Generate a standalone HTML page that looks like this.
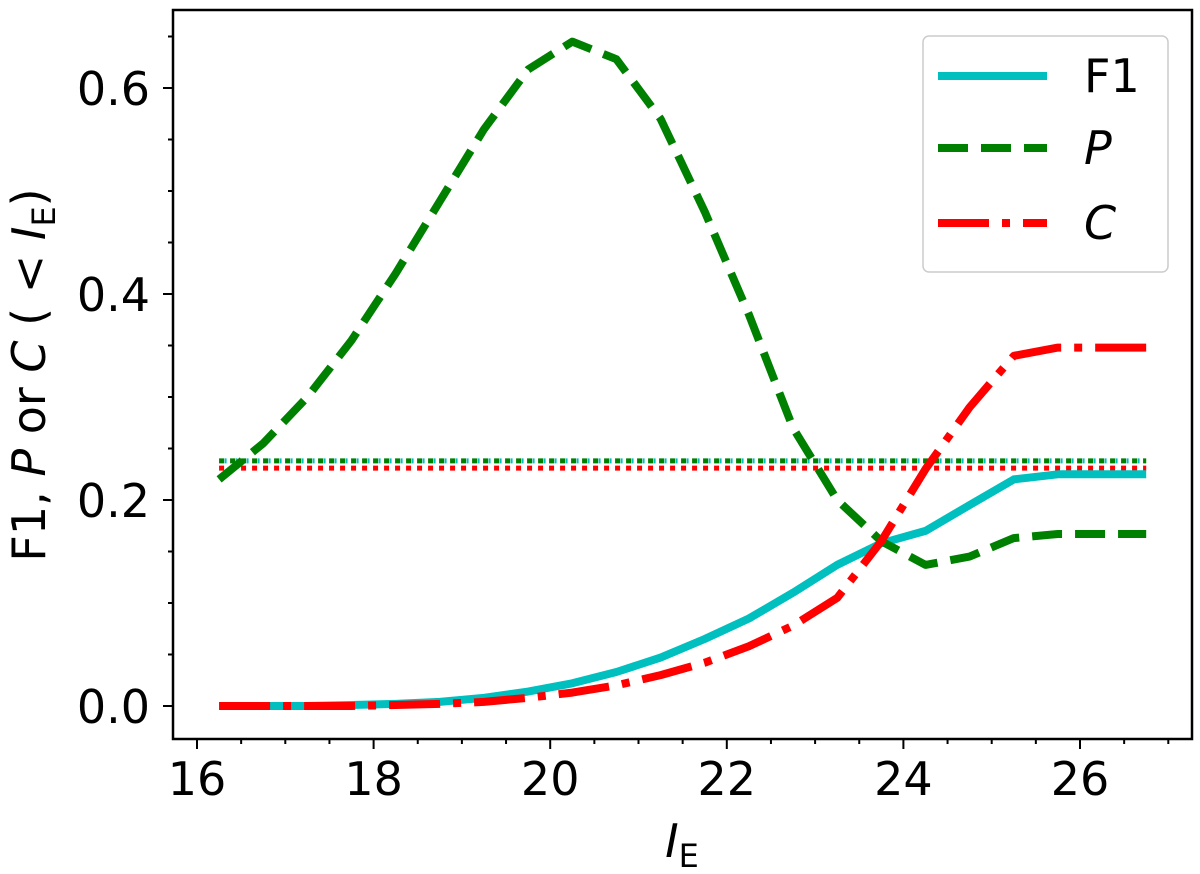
<!DOCTYPE html>
<html><head><meta charset="utf-8">
<style>
html,body{margin:0;padding:0;background:#fff;}
svg{display:block;font-family:"DejaVu Sans","Liberation Sans",sans-serif;}
</style></head>
<body>
<svg id="chart" width="1200" height="874" viewBox="0 0 1200 874" xmlns="http://www.w3.org/2000/svg">
<defs><clipPath id="plotclip"><rect x="173" y="10" width="1019" height="729"/></clipPath></defs>
<g id="ticks"></g>
<g id="series" clip-path="url(#plotclip)"></g>
<rect x="173" y="10" width="1019" height="729" fill="none" stroke="#000" stroke-width="2.5"/>
<text x="682" y="857" font-size="46" text-anchor="middle"><tspan font-style="italic">I</tspan><tspan font-size="32" dy="10">E</tspan></text>
<text transform="translate(45,375) rotate(-90)" font-size="46" text-anchor="middle">F1, <tspan font-style="italic">P</tspan> or <tspan font-style="italic">C</tspan> ( &lt; <tspan font-style="italic">I</tspan><tspan font-size="32" dy="10">E</tspan><tspan dy="-10">)</tspan></text>
<g>
<rect x="923" y="36" width="245" height="236" rx="6" fill="#fff" fill-opacity="0.8" stroke="#ccc" stroke-width="1.5"/>
<line x1="938" y1="76" x2="1047" y2="76" stroke="#00bfbf" stroke-width="8"/>
<text x="1084" y="92" font-size="46">F1</text>
<line x1="938" y1="148" x2="1047" y2="148" stroke="#008000" stroke-width="8" stroke-dasharray="30,13"/>
<text x="1084" y="164" font-size="46" font-style="italic">P</text>
<line x1="938" y1="223" x2="1047" y2="223" stroke="#ff0000" stroke-width="8" stroke-dasharray="51,13,8,13"/>
<text x="1084" y="239" font-size="46" font-style="italic">C</text>
</g>
</svg>
<script>
const xValues = [16.25,16.75,17.25,17.75,18.25,18.75,19.25,19.75,20.25,20.75,21.25,21.75,22.25,22.75,23.25,23.75,24.25,24.75,25.25,25.75,26.25,26.75];
const pValues = [0.22,0.255,0.30,0.355,0.42,0.49,0.56,0.618,0.645,0.628,0.57,0.48,0.38,0.27,0.20,0.16,0.137,0.145,0.163,0.167,0.167,0.167];
const f1Values = [0,0,0,0.001,0.002,0.004,0.008,0.014,0.022,0.033,0.047,0.065,0.085,0.11,0.137,0.158,0.17,0.195,0.22,0.225,0.225,0.225];
const cValues = [0,0,0,0,0.001,0.002,0.004,0.008,0.013,0.02,0.03,0.042,0.058,0.078,0.105,0.16,0.23,0.29,0.34,0.348,0.348,0.348];
const pBaseline = 0.238;
const cBaseline = 0.231;
const xTickLabels = [16,18,20,22,24,26];
const yTickLabels = [0.0,0.2,0.4,0.6];

const NS = "http://www.w3.org/2000/svg";
function sx(v){ return 197 + (v - 16) * 88.3; }
function sy(v){ return 706 - v * 1030; }
function mk(tag, attrs, parent){
  const e = document.createElementNS(NS, tag);
  for (const k in attrs) e.setAttribute(k, attrs[k]);
  parent.appendChild(e);
  return e;
}
const ticks = document.getElementById('ticks');
const series = document.getElementById('series');

// x ticks
for (let v = 16; v <= 27.01; v += 0.5) {
  const major = Math.abs(v - Math.round(v / 2) * 2) < 1e-6;
  const t = mk('line', {x1: sx(v), x2: sx(v), y1: 739, y2: 739 + (major ? 10 : 5), stroke: '#000', 'stroke-width': 2}, ticks);
  
  
}
xTickLabels.forEach(v => {
  const t = mk('text', {x: sx(v), y: 795, 'font-size': 46, 'text-anchor': 'middle'}, ticks);
  t.textContent = String(v);
  
  
});
// y ticks
for (let i = -1; i <= 13; i++) {
  const v = i * 0.05;
  const y = sy(v);
  if (y < 10 || y > 739) continue;
  const major = i % 4 === 0;
  const t = mk('line', {x1: 173 - (major ? 10 : 5), x2: 173, y1: y, y2: y, stroke: '#000', 'stroke-width': 2}, ticks);
  
  
}
yTickLabels.forEach(v => {
  const t = mk('text', {x: 150, y: sy(v) + 17, 'font-size': 46, 'text-anchor': 'end'}, ticks);
  t.textContent = v.toFixed(1);
  
  
});

function pts(vals){ return xValues.map((x, i) => sx(x).toFixed(1) + ',' + sy(vals[i]).toFixed(1)).join(' '); }
const x0 = sx(xValues[0]), x1 = sx(xValues[xValues.length - 1]);

const bl1 = mk('line', {x1: x0, x2: x1, y1: sy(pBaseline), y2: sy(pBaseline), stroke: '#008000', 'stroke-width': 5, 'stroke-dasharray': '5,6'}, series);


const bl3 = mk('line', {x1: x0 + 5.5, x2: x1, y1: sy(pBaseline), y2: sy(pBaseline), stroke: '#00bfbf', 'stroke-width': 5, 'stroke-dasharray': '2,9'}, series);


const bl2 = mk('line', {x1: x0, x2: x1, y1: sy(cBaseline), y2: sy(cBaseline), stroke: '#ff0000', 'stroke-width': 5, 'stroke-dasharray': '5,6'}, series);



const lf = mk('polyline', {points: pts(f1Values), fill: 'none', stroke: '#00bfbf', 'stroke-width': 8, 'stroke-linejoin': 'round'}, series);


const lp = mk('polyline', {points: pts(pValues), fill: 'none', stroke: '#008000', 'stroke-width': 8, 'stroke-dasharray': '30,13', 'stroke-linejoin': 'round'}, series);


const lc = mk('polyline', {points: pts(cValues), fill: 'none', stroke: '#ff0000', 'stroke-width': 8, 'stroke-dasharray': '51,13,8,13', 'stroke-linejoin': 'round'}, series);


</script>
</body></html>
